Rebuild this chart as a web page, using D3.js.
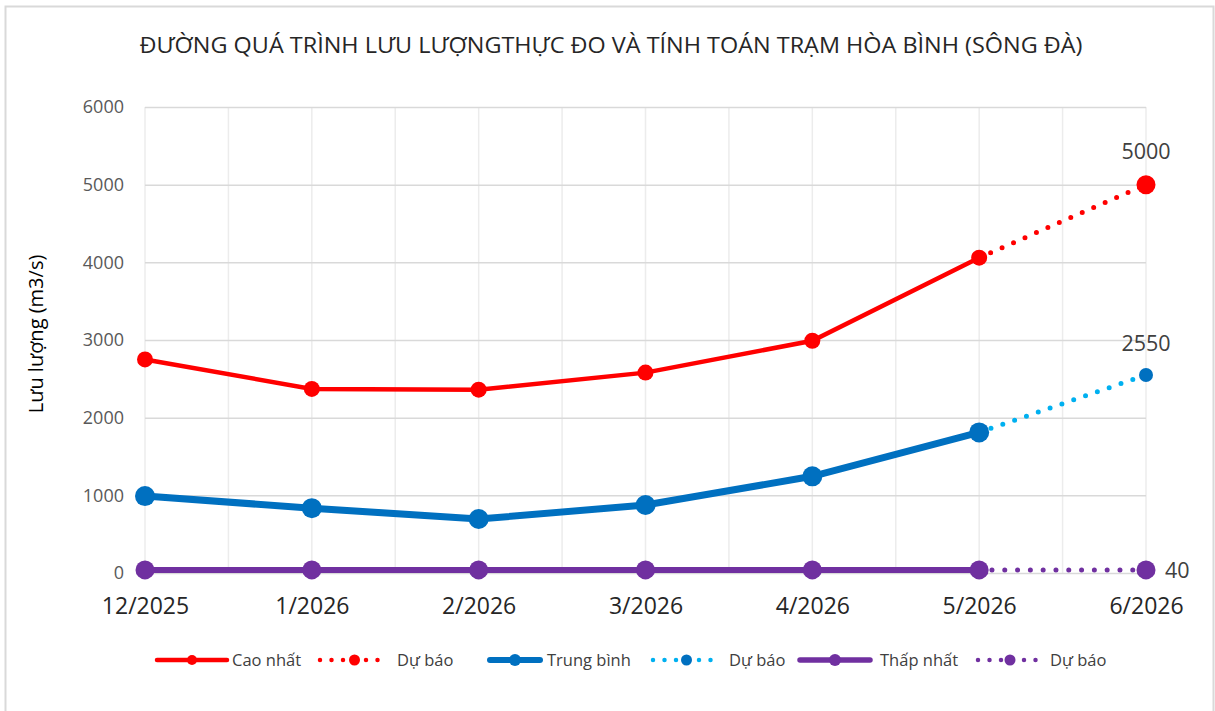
<!DOCTYPE html>
<html>
<head>
<meta charset="utf-8">
<script src="https://cdn.jsdelivr.net/npm/d3@7"></script>
<style>
  body { margin: 0; background: #fff; }
  svg { display: block; font-family: "Open Sans", Lato, sans-serif; }
</style>
</head>
<body>
<svg id="chart" width="1215" height="711"></svg>
<script>
// data
var months = ["12/2025", "1/2026", "2/2026", "3/2026", "4/2026", "5/2026", "6/2026"];
var yTicks = [0, 1000, 2000, 3000, 4000, 5000, 6000];

var caoNhat = [2750, 2370, 2360, 2580, 2990, 4060];
var caoNhatDuBao = [null, null, null, null, null, 4060, 5000];
var trungBinh = [990, 835, 695, 875, 1245, 1810];
var trungBinhDuBao = [null, null, null, null, null, 1810, 2550];
var thapNhat = [40, 40, 40, 40, 40, 40];
var thapNhatDuBao = [null, null, null, null, null, 40, 40];

var svg = d3.select("#chart"),
    width = +svg.attr("width"),
    height = +svg.attr("height");

var margin = {left: 145, right: 69, top: 107, bottom: 139};

var x = d3.scalePoint()
    .domain(months)
    .range([margin.left, width - margin.right]);

var y = d3.scaleLinear()
    .domain([0, 6000])
    .range([height - margin.bottom + 1, margin.top]);

// outer border
svg.append("rect")
    .attr("x", 5.5).attr("y", 6.5)
    .attr("width", 1208).attr("height", 720)
    .attr("fill", "none")
    .attr("stroke", "#d9d9d9")
    .attr("stroke-width", 2);

// title
svg.append("text")
    .attr("x", 611)
    .attr("y", 53)
    .attr("text-anchor", "middle")
    .attr("font-size", 21.5)
    .attr("fill", "#262626")
    .attr("textLength", 943)
    .attr("lengthAdjust", "spacingAndGlyphs")
    .text("ĐƯỜNG QUÁ TRÌNH LƯU LƯỢNGTHỰC ĐO VÀ TÍNH TOÁN TRẠM HÒA BÌNH (SÔNG ĐÀ)");

// vertical grid (month + half month)
var step = x.step();
var vgrid = [];
months.forEach(function(m, i) {
    vgrid.push(x(m));
    if (i < months.length - 1) vgrid.push(x(m) + step / 2);
});
svg.append("g")
    .selectAll("line")
    .data(vgrid)
    .enter().append("line")
    .attr("x1", function(d) { return d; })
    .attr("x2", function(d) { return d; })
    .attr("y1", y(6000))
    .attr("y2", y(0))
    .attr("stroke", "#ececec")
    .attr("stroke-width", 1.5);

// horizontal grid + y labels
var yAxis = svg.append("g")
    .attr("transform", "translate(" + margin.left + ",0)")
    .call(d3.axisLeft(y)
        .tickValues(yTicks)
        .tickFormat(d3.format("d"))
        .tickSize(-(x.range()[1] - x.range()[0]))
        .tickPadding(21))
    .attr("font-family", null);
yAxis.select(".domain").remove();
yAxis.selectAll(".tick line").attr("stroke", "#d9d9d9").attr("stroke-width", 1.5);
yAxis.selectAll(".tick text")
    .attr("font-size", 18)
    .attr("fill", "#595959");

// x labels
var xAxis = svg.append("g")
    .attr("transform", "translate(0," + y(0) + ")")
    .call(d3.axisBottom(x).tickSize(0).tickPadding(25))
    .attr("font-family", null);
xAxis.select(".domain").remove();
xAxis.selectAll(".tick text")
    .attr("font-size", 23)
    .attr("fill", "#262626");

// y axis title
svg.append("text")
    .attr("transform", "translate(43," + 334 + ") rotate(-90)")
    .attr("text-anchor", "middle")
    .attr("font-size", 20)
    .attr("fill", "#000")
    .text("Lưu lượng (m3/s)");

function drawSeries(values, color, lw, r, dotted, lastR, lastColor) {
    var pts = [];
    values.forEach(function(v, i) { if (v != null) pts.push([months[i], v]); });
    var line = d3.line()
        .x(function(d) { return x(d[0]); })
        .y(function(d) { return y(d[1]); });
    var p = svg.append("path")
        .datum(pts)
        .attr("d", line)
        .attr("fill", "none")
        .attr("stroke", color)
        .attr("stroke-width", lw)
        .attr("stroke-linecap", "round");
    if (dotted) p.attr("stroke-dasharray", "0," + dotted);
    svg.append("g")
        .selectAll("circle")
        .data(dotted ? pts.slice(1) : pts)
        .enter().append("circle")
        .attr("cx", function(d) { return x(d[0]); })
        .attr("cy", function(d) { return y(d[1]); })
        .attr("r", dotted ? lastR : r)
        .attr("fill", dotted ? lastColor : color);
}

drawSeries(caoNhatDuBao, "#ff0000", 5, 0, 12.5, 9.5, "#ff0000");
drawSeries(trungBinhDuBao, "#00b0f0", 5, 0, 12.5, 7, "#0070c0");
drawSeries(thapNhatDuBao, "#7030a0", 5, 0, 12.8, 9.5, "#7030a0");
drawSeries(caoNhat, "#ff0000", 4.5, 8, 0);
drawSeries(trungBinh, "#0070c0", 7, 10, 0);
drawSeries(thapNhat, "#7030a0", 6, 9.5, 0);

// data labels on forecast end points
var labels = [
    {v: 5000, text: "5000", dx: 0, dy: -26, anchor: "middle"},
    {v: 2550, text: "2550", dx: 0, dy: -24, anchor: "middle"},
    {v: 40, text: "40", dx: 19, dy: 8, anchor: "start"}
];
svg.append("g")
    .selectAll("text")
    .data(labels)
    .enter().append("text")
    .attr("x", function(d) { return x("6/2026") + d.dx; })
    .attr("y", function(d) { return y(d.v) + d.dy; })
    .attr("text-anchor", function(d) { return d.anchor; })
    .attr("font-size", 21.5)
    .attr("fill", "#404040")
    .text(function(d) { return d.text; });

// legend
var legend = [
    {label: "Cao nhất", color: "#ff0000", mark: "#ff0000", lw: 4.5, r: 5, dotted: false, x0: 157, x1: 227, tx: 232},
    {label: "Dự báo", color: "#ff0000", mark: "#ff0000", lw: 4.5, r: 5.5, dotted: true, x0: 320, x1: 389, tx: 397},
    {label: "Trung bình", color: "#0070c0", mark: "#0070c0", lw: 6, r: 6, dotted: false, x0: 490, x1: 540, tx: 547},
    {label: "Dự báo", color: "#00b0f0", mark: "#0070c0", lw: 4.5, r: 5.5, dotted: true, x0: 653, x1: 720, tx: 729},
    {label: "Thấp nhất", color: "#7030a0", mark: "#7030a0", lw: 5.5, r: 6, dotted: false, x0: 800, x1: 870, tx: 880},
    {label: "Dự báo", color: "#7030a0", mark: "#7030a0", lw: 4.5, r: 5.5, dotted: true, x0: 978, x1: 1042, tx: 1050}
];
var ly = 660;
var lg = svg.append("g").selectAll("g").data(legend).enter().append("g");
lg.append("line")
    .attr("x1", function(d) { return d.x0; })
    .attr("x2", function(d) { return d.x1; })
    .attr("y1", ly).attr("y2", ly)
    .attr("stroke", function(d) { return d.color; })
    .attr("stroke-width", function(d) { return d.lw; })
    .attr("stroke-linecap", "round")
    .attr("stroke-dasharray", function(d) { return d.dotted ? "0,11.5" : null; });
lg.append("circle")
    .attr("cx", function(d) { return (d.x0 + d.x1) / 2; })
    .attr("cy", ly)
    .attr("r", function(d) { return d.r; })
    .attr("fill", function(d) { return d.mark; });
lg.append("text")
    .attr("x", function(d) { return d.tx; })
    .attr("y", ly + 5.5)
    .attr("font-size", 16.5)
    .attr("fill", "#404040")
    .text(function(d) { return d.label; });
</script>
</body>
</html>
